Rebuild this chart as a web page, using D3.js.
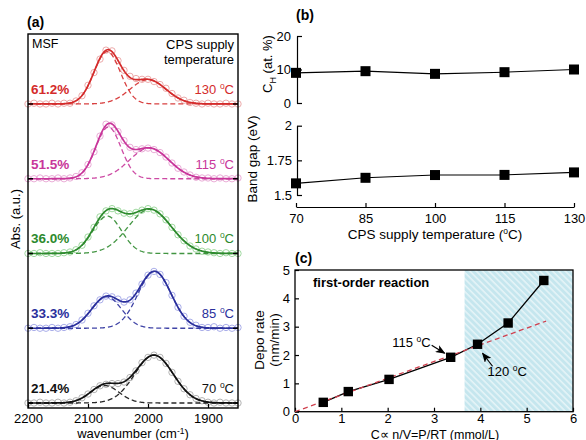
<!DOCTYPE html>
<html>
<head>
<meta charset="utf-8">
<script src="https://cdn.jsdelivr.net/npm/d3@7"></script>
<style>
  body { margin: 0; background: #fff; }
  text { font-family: "Liberation Sans", Arial, Helvetica, sans-serif; }
</style>
</head>
<body>
<svg id="fig" width="586" height="440"></svg>
<script>
// ---------- Panel (a): Si–H stretching absorption, fitted with two modes ----------
const supplyTemps = ["130", "115", "100", "85", "70"];
const msfLabels = ["61.2%", "51.5%", "36.0%", "33.3%", "21.4%"];
const lineColors = ["#d42b2b", "#c8369a", "#2d8a2d", "#2a2f9c", "#111111"];
const markColors = ["#eaa2a2", "#e6a4d3", "#96d596", "#a0a5e6", "#aaaaaa"];

// high-stretching mode (~2070 cm-1) and low-stretching mode (~2000 cm-1)
const hsmCenter = [2068, 2066, 2068, 2069, 2072];
const hsmHeight = [0.70, 0.69, 0.50, 0.42, 0.233];
const hsmWidth  = [22, 21, 24, 25, 24];
const lsmCenter = [2000, 1998, 1997, 1989, 1990];
const lsmHeight = [0.325, 0.41, 0.59, 0.76, 0.64];
const lsmWidth  = [30, 33, 36, 27.6, 32];

const wavenumbers = [2200, 2190, 2180, 2170, 2160, 2150, 2140, 2130, 2120, 2110, 2100, 2090,
  2080, 2070, 2060, 2050, 2040, 2030, 2020, 2010, 2000, 1990, 1980, 1970,
  1960, 1950, 1940, 1930, 1920, 1910, 1900, 1890, 1880, 1870, 1860, 1850];
const abs130 = [0.00,0.01,0.00,0.00,0.01,0.00,0.01,0.01,0.04,0.11,0.25,0.42,0.60,0.72,0.71,0.58,0.45,0.37,0.34,0.33,0.33,0.30,0.26,0.21,0.14,0.08,0.05,0.02,0.01,0.00,0.01,0.00,0.00,0.01,0.00,0.00];
const abs115 = [0.00,0.00,0.01,0.00,0.00,0.01,0.00,0.01,0.03,0.08,0.19,0.36,0.57,0.73,0.72,0.63,0.51,0.42,0.39,0.40,0.41,0.39,0.35,0.29,0.21,0.14,0.09,0.05,0.02,0.01,0.01,0.00,0.01,0.00,0.00,0.01];
const abs100 = [0.00,0.00,0.01,0.00,0.00,0.00,0.01,0.02,0.05,0.11,0.22,0.35,0.49,0.57,0.60,0.57,0.54,0.53,0.55,0.58,0.60,0.58,0.53,0.45,0.35,0.25,0.17,0.10,0.06,0.03,0.02,0.01,0.00,0.01,0.00,0.00];
const abs85  = [0.00,0.01,0.00,0.00,0.01,0.00,0.01,0.02,0.05,0.11,0.20,0.30,0.38,0.43,0.42,0.39,0.35,0.38,0.47,0.59,0.71,0.76,0.72,0.61,0.44,0.28,0.16,0.08,0.04,0.01,0.01,0.02,0.00,0.01,0.00,0.01];
const abs70  = [0.00,0.00,0.01,0.00,0.00,0.01,0.00,0.01,0.03,0.07,0.12,0.18,0.23,0.25,0.26,0.26,0.28,0.34,0.43,0.54,0.61,0.64,0.61,0.53,0.41,0.29,0.19,0.11,0.06,0.03,0.01,0.00,0.01,0.00,0.00,0.00];
const spectra = [abs130, abs115, abs100, abs85, abs70];
const waveTicks = [2200, 2100, 2000, 1900];

// ---------- Panel (b): H content and band gap vs CPS supply temperature ----------
const cpsTemps = [70, 85, 100, 115, 130];
const hContent = [9.0, 9.5, 8.7, 9.2, 10.0];
const bandGap  = [1.584, 1.624, 1.644, 1.645, 1.663];
const hTicks = [0, 10, 20];
const gapTicks = [1.5, 1.75, 2];

// ---------- Panel (c): deposition rate vs concentration ----------
const concentration = [0.61, 1.15, 2.03, 3.36, 3.94, 4.60, 5.37];
const depoRate      = [0.33, 0.71, 1.14, 1.92, 2.38, 3.13, 4.63];
const fitSlope = 0.59;          // first-order fit through the origin
const fitEnd = 5.42;
const enhancedFrom = 3.66;      // onset of the shaded regime
const concTicks = [0, 1, 2, 3, 4, 5, 6];
const rateTicks = [0, 1, 2, 3, 4, 5];

const svg = d3.select("#fig");
const FS = 13;
const plain = d => String(d);

function degLabel(sel, num) {
  sel.append("tspan").text(num + " ");
  sel.append("tspan").attr("font-size", 8.5).attr("dy", -5).text("o");
  sel.append("tspan").attr("dy", 5).text("C");
}

const defs = svg.append("defs");
defs.append("marker").attr("id", "arrowhead")
  .attr("viewBox", "0 0 10 8").attr("refX", 9).attr("refY", 4)
  .attr("markerWidth", 10).attr("markerHeight", 8)
  .attr("markerUnits", "userSpaceOnUse").attr("orient", "auto")
  .append("path").attr("d", "M0,0 L10,4 L0,8 L2.5,4 Z").attr("fill", "#000");
const hatch = defs.append("pattern").attr("id", "hatch")
  .attr("patternUnits", "userSpaceOnUse").attr("width", 4.5).attr("height", 4.5)
  .attr("patternTransform", "rotate(-45)");
hatch.append("rect").attr("width", 4.5).attr("height", 4.5).attr("fill", "#c5e6ee");
hatch.append("line").attr("x1", 1).attr("y1", 0).attr("x2", 1).attr("y2", 4.5)
  .attr("stroke", "#eaf6f9").attr("stroke-width", 1.4);

function styleAxis(g) {
  g.selectAll("text").attr("font-size", FS).attr("font-family", null);
  g.selectAll("line,path").attr("stroke-width", 1.2);
}

// ================= Panel (a) =================
const xA = d3.scaleLinear().domain([2200, 1850]).range([28, 238]);
const yA = d3.scaleLinear().domain([-0.067, 4.936]).range([408, 34]);
const gA = svg.append("g");
const gauss = (w, c, a, s) => a * Math.exp(-((w - c) ** 2) / (2 * s * s));
const fine = d3.range(2200, 1849.5, -1);

spectra.forEach((spec, i) => {
  const off = supplyTemps.length - 1 - i;
  const base = yA(off);
  const comp1 = w => gauss(w, hsmCenter[i], hsmHeight[i], hsmWidth[i]);
  const comp2 = w => gauss(w, lsmCenter[i], lsmHeight[i], lsmWidth[i]);
  const line = f => d3.line().x(w => xA(w)).y(w => yA(off + f(w)))(fine);

  // measured points
  gA.append("g").selectAll("circle").data(spec).join("circle")
    .attr("cx", (d, k) => xA(wavenumbers[k])).attr("cy", d => yA(off + d))
    .attr("r", 3.2).attr("fill", "none")
    .attr("stroke", markColors[i]).attr("stroke-width", 0.9);
  // component peaks
  [comp1, comp2].forEach(f => gA.append("path").attr("d", line(f))
    .attr("fill", "none").attr("stroke", lineColors[i]).attr("stroke-width", 1.3)
    .attr("stroke-dasharray", "5,3").attr("opacity", 0.9));
  // sum of components
  gA.append("path").attr("d", line(w => comp1(w) + comp2(w)))
    .attr("fill", "none").attr("stroke", lineColors[i]).attr("stroke-width", 1.7);

  gA.append("text").attr("x", 31).attr("y", base - 10)
    .attr("font-size", 13.5).attr("font-weight", "bold").attr("fill", lineColors[i])
    .text(msfLabels[i]);
  gA.append("text").attr("x", 234).attr("y", base - 10).attr("text-anchor", "end")
    .attr("font-size", FS).attr("fill", lineColors[i])
    .call(s => degLabel(s, supplyTemps[i]));

  // baseline markers on both frame edges
  [[28, 33], [238, 233]].forEach(([a, b]) => gA.append("line")
    .attr("x1", a).attr("x2", b).attr("y1", base).attr("y2", base)
    .attr("stroke", "#000").attr("stroke-width", 1.4));
});

gA.append("rect").attr("x", 28).attr("y", 34).attr("width", 210).attr("height", 374)
  .attr("fill", "none").attr("stroke", "#000").attr("stroke-width", 1.4);
const axA = gA.append("g").attr("transform", "translate(0,408)")
  .call(d3.axisBottom(xA).tickValues(waveTicks).tickFormat(plain)
    .tickSize(-4).tickSizeOuter(0).tickPadding(6))
  .call(styleAxis);
axA.select(".domain").remove();

gA.append("text").attr("x", 32).attr("y", 48).attr("font-size", 12.5).text("MSF");
gA.append("text").attr("x", 234).attr("y", 49).attr("text-anchor", "end").attr("font-size", FS).text("CPS supply");
gA.append("text").attr("x", 234).attr("y", 64).attr("text-anchor", "end").attr("font-size", FS).text("temperature");
gA.append("text").attr("x", 27).attr("y", 27).attr("font-size", 14).attr("font-weight", "bold").text("(a)");
gA.append("text").attr("transform", "translate(15,219) rotate(-90)").attr("text-anchor", "middle")
  .attr("dy", "0.35em").attr("font-size", FS).text("Abs. (a.u.)");
const wt = gA.append("text").attr("x", 133).attr("y", 438).attr("text-anchor", "middle").attr("font-size", FS);
wt.append("tspan").text("wavenumber (cm");
wt.append("tspan").attr("font-size", 8.5).attr("dy", -4).text("-1");
wt.append("tspan").attr("dy", 4).text(")");

// ================= Panel (b) =================
const xB = d3.scaleLinear().domain([70, 130]).range([296, 574]);
const yH = d3.scaleLinear().domain([0, 20]).range([103, 36]);
const yG = d3.scaleLinear().domain([1.5, 2]).range([195, 125.7]);
const gB = svg.append("g");

gB.append("g").attr("transform", "translate(297,0)")
  .call(d3.axisLeft(yH).tickValues(hTicks).tickFormat(plain).tickSize(-5).tickSizeOuter(0).tickPadding(6))
  .call(styleAxis);
gB.append("g").attr("transform", "translate(297,0)")
  .call(d3.axisLeft(yG).tickValues(gapTicks).tickFormat(plain).tickSize(-5).tickSizeOuter(0).tickPadding(5))
  .call(styleAxis);
gB.append("g").attr("transform", "translate(0,207)")
  .call(d3.axisBottom(xB).tickValues(cpsTemps).tickFormat(plain).tickSize(-4).tickSizeOuter(0).tickPadding(7))
  .call(styleAxis);

[[hContent, yH], [bandGap, yG]].forEach(([vals, ys]) => {
  gB.append("path").datum(vals)
    .attr("d", d3.line().x((d, k) => xB(cpsTemps[k])).y(d => ys(d)))
    .attr("fill", "none").attr("stroke", "#000").attr("stroke-width", 1.1);
  gB.append("g").selectAll("rect").data(vals).join("rect")
    .attr("x", (d, k) => xB(cpsTemps[k]) - 5).attr("y", d => ys(d) - 5)
    .attr("width", 10).attr("height", 10).attr("fill", "#000");
});

gB.append("text").attr("x", 296).attr("y", 20).attr("font-size", 14).attr("font-weight", "bold").text("(b)");
const ch = gB.append("text").attr("transform", "translate(267,64) rotate(-90)")
  .attr("text-anchor", "middle").attr("dy", "0.35em").attr("font-size", FS);
ch.append("tspan").text("C");
ch.append("tspan").attr("font-size", 9).attr("dy", 4).text("H");
ch.append("tspan").attr("dy", -4).text(" (at. %)");
gB.append("text").attr("transform", "translate(252,159) rotate(-90)").attr("text-anchor", "middle")
  .attr("dy", "0.35em").attr("font-size", 13.5).text("Band gap (eV)");
const ct = gB.append("text").attr("x", 435).attr("y", 239).attr("text-anchor", "middle").attr("font-size", 13.5);
ct.append("tspan").text("CPS supply temperature (");
ct.append("tspan").attr("font-size", 8.5).attr("dy", -5).text("o");
ct.append("tspan").attr("dy", 5).text("C)");

// ================= Panel (c) =================
const xC = d3.scaleLinear().domain([0, 6]).range([295, 573]);
const yC = d3.scaleLinear().domain([0, 5]).range([411.7, 270]);
const gC = svg.append("g");

gC.append("rect").attr("x", xC(enhancedFrom)).attr("y", yC(5))
  .attr("width", xC(6) - xC(enhancedFrom)).attr("height", yC(0) - yC(5))
  .attr("fill", "url(#hatch)");
gC.append("rect").attr("x", xC(0)).attr("y", yC(5))
  .attr("width", xC(6) - xC(0)).attr("height", yC(0) - yC(5))
  .attr("fill", "none").attr("stroke", "#000").attr("stroke-width", 1.3);
const axCx = gC.append("g").attr("transform", `translate(0,${yC(0)})`)
  .call(d3.axisBottom(xC).tickValues(concTicks).tickFormat(plain).tickSize(-4).tickSizeOuter(0).tickPadding(2))
  .call(styleAxis);
axCx.select(".domain").remove();
const axCy = gC.append("g").attr("transform", `translate(${xC(0)},0)`)
  .call(d3.axisLeft(yC).tickValues(rateTicks).tickFormat(plain).tickSize(-4).tickSizeOuter(0).tickPadding(5))
  .call(styleAxis);
axCy.select(".domain").remove();

gC.append("path").datum(concentration.map((c, k) => [c, depoRate[k]]))
  .attr("d", d3.line().x(d => xC(d[0])).y(d => yC(d[1])))
  .attr("fill", "none").attr("stroke", "#000").attr("stroke-width", 1.3);
gC.append("line").attr("x1", xC(0)).attr("y1", yC(0))
  .attr("x2", xC(fitEnd)).attr("y2", yC(fitSlope * fitEnd))
  .attr("stroke", "#d0414f").attr("stroke-width", 1.3).attr("stroke-dasharray", "5,3.5");
gC.append("g").selectAll("rect").data(depoRate).join("rect")
  .attr("x", (d, k) => xC(concentration[k]) - 4.7).attr("y", d => yC(d) - 4.7)
  .attr("width", 9.4).attr("height", 9.4).attr("fill", "#000");

// temperature annotations
const p115 = [xC(concentration[3]), yC(depoRate[3])];
const p120 = [xC(concentration[4]), yC(depoRate[4])];
gC.append("line").attr("x1", p115[0] - 19).attr("y1", p115[1] - 12)
  .attr("x2", p115[0] - 6).attr("y2", p115[1] - 4)
  .attr("stroke", "#000").attr("stroke-width", 1.2).attr("marker-end", "url(#arrowhead)");
gC.append("text").attr("x", p115[0] - 20).attr("y", p115[1] - 10).attr("text-anchor", "end")
  .attr("font-size", FS).call(s => degLabel(s, "115"));
gC.append("line").attr("x1", p120[0] + 15).attr("y1", p120[1] + 22)
  .attr("x2", p120[0] + 5).attr("y2", p120[1] + 9)
  .attr("stroke", "#000").attr("stroke-width", 1.2).attr("marker-end", "url(#arrowhead)");
gC.append("text").attr("x", p120[0] + 10).attr("y", p120[1] + 32)
  .attr("font-size", FS).call(s => degLabel(s, "120"));

gC.append("text").attr("x", 313).attr("y", 287).attr("font-size", 13).attr("font-weight", "bold")
  .text("first-order reaction");
gC.append("text").attr("x", 295).attr("y", 263).attr("font-size", 14).attr("font-weight", "bold").text("(c)");
gC.append("text").attr("transform", "translate(259,340) rotate(-90)").attr("text-anchor", "middle")
  .attr("dy", "0.35em").attr("font-size", 13.5).text("Depo rate");
gC.append("text").attr("transform", "translate(274,340) rotate(-90)").attr("text-anchor", "middle")
  .attr("dy", "0.35em").attr("font-size", 13.5).text("(nm/min)");
gC.append("text").attr("x", 435).attr("y", 438.5).attr("text-anchor", "middle").attr("font-size", 12.5)
  .text("C\u221D n/V=P/RT (mmol/L)");
</script>
</body>
</html>
